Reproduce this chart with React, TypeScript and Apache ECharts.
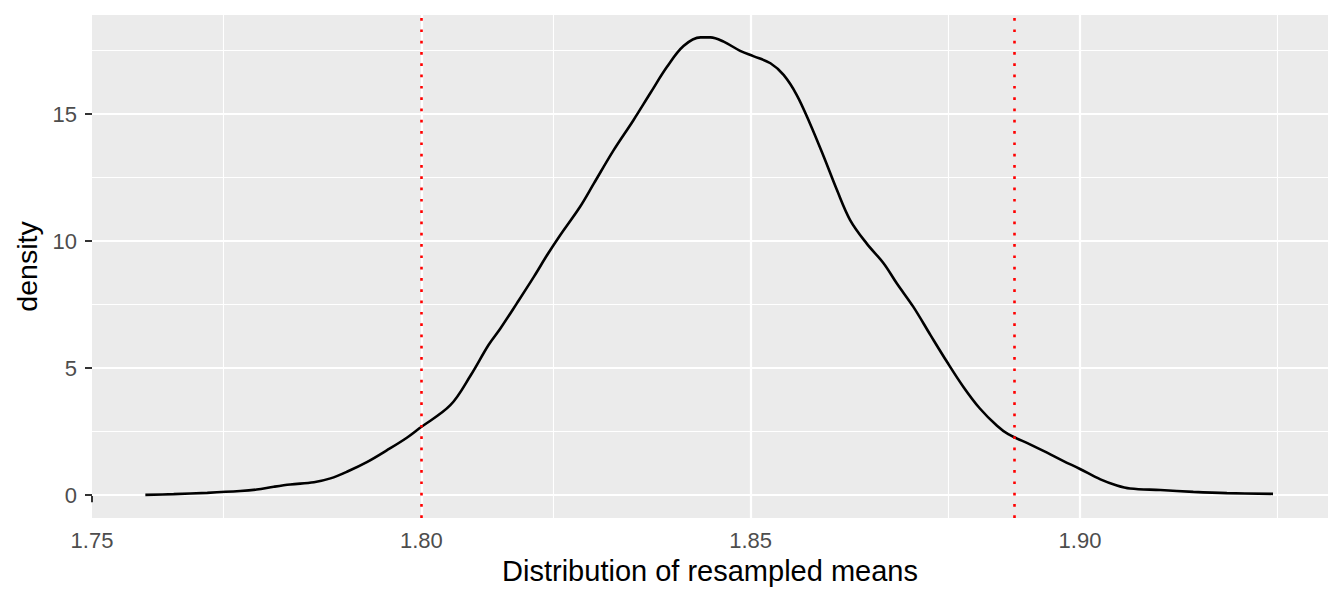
// Density of resampled means with 95% interval lines — ggplot2 grey theme look.
import * as React from "react";
import * as echarts from "echarts";

// density curve
const MEANS = [
  1.7581, 1.7624, 1.7675, 1.7725, 1.775, 1.7776, 1.7801, 1.7837, 1.7862, 1.7887,
  1.7918, 1.7948, 1.7978, 1.7997, 1.8044, 1.8075, 1.8102, 1.812, 1.8145, 1.8171,
  1.8191, 1.8211, 1.8241, 1.8262, 1.8292, 1.8322, 1.8348, 1.8373, 1.8398, 1.8424,
  1.8439, 1.8459, 1.8484, 1.8504, 1.853, 1.855, 1.857, 1.859, 1.8611, 1.8631,
  1.8651, 1.8676, 1.8702, 1.8722, 1.8747, 1.8773, 1.8798, 1.8823, 1.8848, 1.8874,
  1.8891, 1.8924, 1.895, 1.8975, 1.9, 1.9031, 1.9056, 1.9076, 1.9122, 1.9172,
  1.9223, 1.9293,
];
const DENSITY = [
  0.01, 0.04, 0.09, 0.16, 0.22, 0.33, 0.42, 0.51, 0.66, 0.92,
  1.31, 1.77, 2.26, 2.63, 3.54, 4.72, 5.91, 6.56, 7.55, 8.6,
  9.45, 10.24, 11.35, 12.27, 13.58, 14.76, 15.84, 16.86, 17.68, 18.02,
  18.02, 17.85, 17.49, 17.28, 17.0, 16.54, 15.75, 14.63, 13.32, 12.01,
  10.83, 9.91, 9.12, 8.33, 7.41, 6.3, 5.25, 4.26, 3.41, 2.73,
  2.4, 2.0, 1.67, 1.34, 1.03, 0.62, 0.38, 0.26, 0.2, 0.13,
  0.08, 0.05,
];
// 2.5% / 97.5% quantiles
const CI = [1.7999, 1.8891];

const X_BREAKS = [1.75, 1.8, 1.85, 1.9];
const X_MINOR = [1.775, 1.825, 1.875, 1.925];
const Y_BREAKS = [0, 5, 10, 15];
const Y_MINOR = [2.5, 7.5, 12.5, 17.5];

const FONT = "'Liberation Sans', Arial, Helvetica, sans-serif";

export default function App() {
  const ref = React.useRef<HTMLDivElement | null>(null);

  React.useEffect(() => {
    if (!ref.current) return;
    const chart = echarts.init(ref.current, undefined, { renderer: "svg" });

    const gridLine = (axis: "xAxis" | "yAxis", v: number, width: number) => ({
      [axis]: v,
      lineStyle: { color: "#FFFFFF", width, type: "solid" },
    });

    chart.setOption({
      animation: false,
      backgroundColor: "#FFFFFF",
      textStyle: { fontFamily: FONT },
      grid: {
        left: 92, right: 16, top: 15, bottom: 86,
        show: true, backgroundColor: "#EBEBEB", borderWidth: 0,
      },
      xAxis: {
        type: "value",
        min: 1.75, max: 1.93765,
        name: "Distribution of resampled means",
        nameLocation: "middle", nameGap: 38,
        nameTextStyle: { color: "#000000", fontSize: 29, fontFamily: FONT },
        axisLine: { show: false },
        axisTick: { show: true, length: 7, customValues: X_BREAKS, lineStyle: { color: "#333333", width: 2 } },
        axisLabel: {
          customValues: X_BREAKS, margin: 11, color: "#4D4D4D", fontSize: 22, fontFamily: FONT,
          formatter: (v: number) => v.toFixed(2),
        },
        splitLine: { show: false },
      },
      yAxis: {
        type: "value",
        min: -0.9, max: 18.9,
        name: "density",
        nameLocation: "middle", nameGap: 48, nameRotate: 90,
        nameTextStyle: { color: "#000000", fontSize: 28.5, fontFamily: FONT },
        axisLine: { show: false },
        axisTick: { show: true, length: 7, customValues: Y_BREAKS, lineStyle: { color: "#333333", width: 2 } },
        axisLabel: {
          customValues: Y_BREAKS, margin: 15, color: "#4D4D4D", fontSize: 22, fontFamily: FONT,
          formatter: (v: number) => String(v),
        },
        splitLine: { show: false },
      },
      series: [
        {
          // panel grid lines (1.75 sits on the panel edge, so no line there)
          type: "line", data: [[1.8, 0]], symbol: "none", z: 1, silent: true,
          lineStyle: { opacity: 0 },
          markLine: {
            z: 1, silent: true, symbol: "none", label: { show: false }, animation: false,
            data: [
              ...X_MINOR.map((v) => gridLine("xAxis", v, 1.1)),
              ...Y_MINOR.map((v) => gridLine("yAxis", v, 1.1)),
              ...X_BREAKS.slice(1).map((v) => gridLine("xAxis", v, 2.2)),
              ...Y_BREAKS.map((v) => gridLine("yAxis", v, 2.2)),
            ],
          },
        },
        {
          type: "line", z: 3, silent: true,
          data: MEANS.map((m, i) => [m, DENSITY[i]]),
          symbol: "none", smooth: 0.35,
          lineStyle: { color: "#000000", width: 2.6 },
        },
        {
          type: "line", data: [[1.8, 0]], symbol: "none", z: 4, silent: true,
          lineStyle: { opacity: 0 },
          markLine: {
            z: 5, silent: true, symbol: "none", label: { show: false }, animation: false,
            data: CI.map((v) => ({
              xAxis: v,
              lineStyle: { color: "#FF0000", width: 2.6, type: [2.7, 8.6] },
            })),
          },
        },
      ],
    });

    return () => chart.dispose();
  }, []);

  return (
    <div
      ref={ref}
      style={{ position: "fixed", left: 0, top: 0, width: 1344, height: 604 }}
      role="img"
      aria-label="Density of resampled means"
    />
  );
}
